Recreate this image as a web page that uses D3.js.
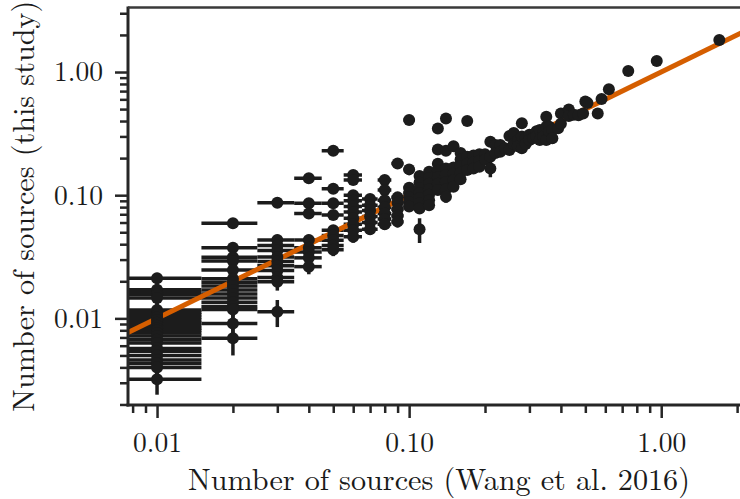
<!DOCTYPE html>
<html lang="en">
<head>
<meta charset="UTF-8">
<title>Number of sources comparison</title>
<script src="https://cdn.jsdelivr.net/npm/d3@7/dist/d3.min.js"></script>
<style>
    body { margin: 0; background: #fff; }
    .tick line { stroke: #262626; stroke-width: 2.5; }
</style>
</head>
<body>
<svg id="chart" width="740" height="499"></svg>
<script>
// Wang et al. 2016 values, one per column of points
const wangValues = [0.01, 0.02, 0.03, 0.04, 0.05, 0.06, 0.07, 0.08, 0.09, 0.10,
    0.11, 0.12, 0.13, 0.14, 0.15, 0.16, 0.17, 0.18, 0.19, 0.20,
    0.21, 0.22, 0.23, 0.24, 0.25, 0.26, 0.27, 0.28, 0.29, 0.30,
    0.31, 0.32, 0.33, 0.34, 0.35, 0.36, 0.37, 0.39, 0.40, 0.43,
    0.45, 0.47, 0.49, 0.50, 0.51, 0.56, 0.58, 0.62, 0.74, 0.96, 1.70];
const wangErr = 0.005;

// this study, grouped by the Wang column above
const studyValues = [
    [0.0212, 0.0171, 0.0163, 0.0156, 0.0146, 0.0117, 0.0112, 0.0107, 0.0102, 0.0097, 0.0092, 0.0087, 0.0083,
     0.0080, 0.0076, 0.0072, 0.0067, 0.0063, 0.0057, 0.0054, 0.0050, 0.0046, 0.0043, 0.0040, 0.0032],
    [0.0593, 0.0375, 0.0314, 0.0292, 0.0247, 0.0210, 0.0196, 0.0183, 0.0170, 0.0158, 0.0146, 0.0135, 0.0125, 0.0118, 0.0091, 0.0069],
    [0.0868, 0.0432, 0.0390, 0.0355, 0.0315, 0.0290, 0.0268, 0.0245, 0.0215, 0.0198, 0.0113],
    [0.137, 0.086, 0.071, 0.0432, 0.0375, 0.0345, 0.0310, 0.0263],
    [0.229, 0.113, 0.086, 0.069, 0.052, 0.047, 0.043, 0.039, 0.036],
    [0.146, 0.133, 0.100, 0.090, 0.081, 0.073, 0.065, 0.058, 0.052, 0.046],
    [0.093, 0.083, 0.075, 0.067, 0.060, 0.053],
    [0.133, 0.110, 0.091, 0.080, 0.071, 0.064, 0.058],
    [0.181, 0.096, 0.087, 0.077, 0.068, 0.061],
    [0.407, 0.162, 0.115, 0.104, 0.096, 0.088, 0.081],
    [0.143, 0.127, 0.114, 0.104, 0.095, 0.086, 0.078, 0.053],
    [0.155, 0.138, 0.124, 0.112, 0.101, 0.091, 0.083],
    [0.348, 0.235, 0.180, 0.158, 0.140, 0.124, 0.110],
    [0.420, 0.229, 0.165, 0.146, 0.128, 0.112, 0.097],
    [0.250, 0.168, 0.150, 0.133, 0.117],
    [0.220, 0.195, 0.172, 0.152, 0.135],
    [0.400, 0.205, 0.180, 0.160],
    [0.210, 0.185, 0.165],
    [0.215, 0.190, 0.170],
    [0.215, 0.195],
    [0.271, 0.205, 0.165],
    [0.255, 0.220],
    [0.255, 0.225],
    [0.240],
    [0.302, 0.233],
    [0.320, 0.260],
    [0.280, 0.250],
    [0.383, 0.300, 0.240],
    [0.290, 0.260],
    [0.310, 0.280],
    [0.290],
    [0.330, 0.300],
    [0.338, 0.280],
    [0.320, 0.300],
    [0.433, 0.360, 0.280],
    [0.360, 0.330],
    [0.340, 0.290],
    [0.350],
    [0.461, 0.380],
    [0.497, 0.440],
    [0.450],
    [0.446],
    [0.460],
    [0.575],
    [0.560],
    [0.460],
    [0.603],
    [0.723],
    [1.02],
    [1.23],
    [1.82]
];

const studyErrors = [
    [0.0022, 0.0020, 0.0019, 0.0019, 0.0018, 0.0016, 0.0016, 0.0015, 0.0015, 0.0014, 0.0014, 0.0014, 0.0013,
     0.0013, 0.0013, 0.0012, 0.0012, 0.0012, 0.0011, 0.0011, 0.0010, 0.0010, 0.0010, 0.0009, 0.0008],
    [0.004, 0.0035, 0.0032, 0.003, 0.0028, 0.0026, 0.0025, 0.0024, 0.0023, 0.0022, 0.0021, 0.0021, 0.002, 0.002, 0.002, 0.0019],
    [0.005, 0.0045, 0.0042, 0.004, 0.0038, 0.0036, 0.0034, 0.0032, 0.003, 0.003, 0.0028],
    [0.008, 0.006, 0.0055, 0.0045, 0.0042, 0.004, 0.0038, 0.0035],
    [0.01, 0.007, 0.006, 0.0055, 0.0048, 0.0045, 0.0043, 0.0041, 0.004],
    [0.008, 0.008, 0.007, 0.0065, 0.006, 0.0058, 0.0055, 0.0052, 0.005, 0.0048],
    [0.007, 0.0065, 0.006, 0.006, 0.0055, 0.005],
    [0.008, 0.0075, 0.007, 0.0065, 0.006, 0.006, 0.0055],
    [0.009, 0.0072, 0.007, 0.0065, 0.006, 0.006],
    [0.015, 0.009, 0.008, 0.0075, 0.007, 0.007, 0.0065],
    [0.009, 0.0085, 0.008, 0.0075, 0.007, 0.007, 0.0065, 0.012],
    [0.009, 0.009, 0.0085, 0.008, 0.0075, 0.007, 0.007],
    [0.014, 0.012, 0.01, 0.0095, 0.009, 0.0085, 0.008],
    [0.015, 0.012, 0.01, 0.0095, 0.009, 0.0085, 0.01],
    [0.012, 0.01, 0.0095, 0.009, 0.0085],
    [0.012, 0.011, 0.01, 0.0095, 0.009],
    [0.015, 0.011, 0.01, 0.0095],
    [0.011, 0.01, 0.01],
    [0.011, 0.011, 0.01],
    [0.012, 0.011],
    [0.013, 0.011, 0.025],
    [0.012, 0.011],
    [0.012, 0.011],
    [0.012],
    [0.013, 0.012],
    [0.013, 0.012],
    [0.013, 0.012],
    [0.015, 0.013, 0.012],
    [0.013, 0.012],
    [0.013, 0.013],
    [0.013],
    [0.014, 0.013],
    [0.014, 0.013],
    [0.014, 0.013],
    [0.016, 0.014, 0.013],
    [0.014, 0.014],
    [0.014, 0.013],
    [0.014],
    [0.016, 0.015],
    [0.017, 0.016],
    [0.016],
    [0.016],
    [0.016],
    [0.018],
    [0.018],
    [0.03],
    [0.019],
    [0.021],
    [0.025],
    [0.028],
    [0.035]
];

const majorTicks = [0.01, 0.1, 1];
const xMinorTicks = [0.008, 0.009, 0.02, 0.03, 0.04, 0.05, 0.06, 0.07, 0.08, 0.09,
    0.2, 0.3, 0.4, 0.5, 0.6, 0.7, 0.8, 0.9, 2];
const yMinorTicks = [0.002, 0.003, 0.004, 0.005, 0.006, 0.007, 0.008, 0.009,
    0.02, 0.03, 0.04, 0.05, 0.06, 0.07, 0.08, 0.09,
    0.2, 0.3, 0.4, 0.5, 0.6, 0.7, 0.8, 0.9, 2, 3];
const xTitle = "Number of sources (Wang et al. 2016)";
const yTitle = "Number of sources (this study)";

// flatten into points
const points = [];
wangValues.forEach((w, i) => {
    studyValues[i].forEach((s, j) => {
        points.push({ x: w, y: s, yerr: studyErrors[i][j] });
    });
});

const margin = { top: 7.5, right: 0, bottom: 94, left: 128 };
const plotRight = 750;
const plotBottom = 499 - margin.bottom;
const ink = "#1c1c1c";
const textInk = "#1a1a1a";
const serif = "Latin Modern Roman";

const svg = d3.select("#chart");

const x = d3.scaleLog().domain([0.00767, 2.25]).range([margin.left, plotRight]);
const y = d3.scaleLog().domain([0.00198, 3.34]).range([plotBottom, margin.top]);

svg.append("clipPath").attr("id", "plotClip")
    .append("rect")
    .attr("x", margin.left).attr("y", margin.top)
    .attr("width", plotRight - margin.left).attr("height", plotBottom - margin.top);

const plot = svg.append("g").attr("clip-path", "url(#plotClip)");

// error bars
const bars = plot.append("g").attr("stroke", ink).attr("stroke-width", 3.5);
bars.selectAll(".xerr")
    .data(points)
    .enter().append("line")
    .attr("class", "xerr")
    .attr("x1", d => x(d.x - wangErr))
    .attr("x2", d => x(d.x + wangErr))
    .attr("y1", d => y(d.y))
    .attr("y2", d => y(d.y));
bars.selectAll(".yerr")
    .data(points)
    .enter().append("line")
    .attr("class", "yerr")
    .attr("x1", d => x(d.x))
    .attr("x2", d => x(d.x))
    .attr("y1", d => y(d.y - d.yerr))
    .attr("y2", d => y(d.y + d.yerr));

// one-to-one line
const oneToOne = x.domain().map(v => ({ x: v, y: v }));
plot.append("path")
    .datum(oneToOne)
    .attr("fill", "none")
    .attr("stroke", "#d55e00")
    .attr("stroke-width", 5)
    .attr("d", d3.line().x(d => x(d.x)).y(d => y(d.y)));

// markers
plot.selectAll(".dot")
    .data(points)
    .enter().append("circle")
    .attr("class", "dot")
    .attr("cx", d => x(d.x))
    .attr("cy", d => y(d.y))
    .attr("r", 6)
    .attr("fill", ink);

// axes
const fmt = d3.format(".2f");
svg.append("g")
    .attr("transform", "translate(0," + plotBottom + ")")
    .call(d3.axisBottom(x).tickValues(majorTicks).tickFormat(fmt).tickSize(13).tickPadding(14));
svg.append("g")
    .attr("transform", "translate(0," + plotBottom + ")")
    .call(d3.axisBottom(x).tickValues(xMinorTicks).tickFormat("").tickSize(8));
svg.append("g")
    .attr("transform", "translate(" + margin.left + ",0)")
    .call(d3.axisLeft(y).tickValues(majorTicks).tickFormat(fmt).tickSize(13).tickPadding(12));
svg.append("g")
    .attr("transform", "translate(" + margin.left + ",0)")
    .call(d3.axisLeft(y).tickValues(yMinorTicks).tickFormat("").tickSize(8));

svg.selectAll(".domain").remove();
svg.selectAll(".tick text")
    .attr("font-family", serif)
    .style("font-family", serif)
    .style("font-size", "27.5px")
    .attr("fill", textInk);

// spines
const spines = svg.append("g").attr("stroke", "#262626").attr("stroke-width", 3).attr("fill", "none");
spines.append("line").attr("x1", margin.left).attr("x2", margin.left).attr("y1", margin.top - 1).attr("y2", plotBottom + 1.5);
spines.append("line").attr("x1", margin.left - 1.5).attr("x2", plotRight).attr("y1", plotBottom).attr("y2", plotBottom);
spines.append("line").attr("x1", margin.left).attr("x2", plotRight).attr("y1", margin.top).attr("y2", margin.top)
    .attr("stroke-width", 2.5).attr("stroke", "#3a3a3a");

// titles
svg.append("text")
    .attr("x", (margin.left + plotRight) / 2)
    .attr("y", 490)
    .attr("text-anchor", "middle")
    .attr("fill", textInk)
    .style("font-family", serif)
    .style("font-size", "30.2px")
    .text(xTitle);

svg.append("text")
    .attr("transform", "translate(33.5," + (margin.top + plotBottom) / 2 + ") rotate(-90)")
    .attr("text-anchor", "middle")
    .attr("fill", textInk)
    .style("font-family", serif)
    .style("font-size", "30.2px")
    .text(yTitle);
</script>
</body>
</html>
